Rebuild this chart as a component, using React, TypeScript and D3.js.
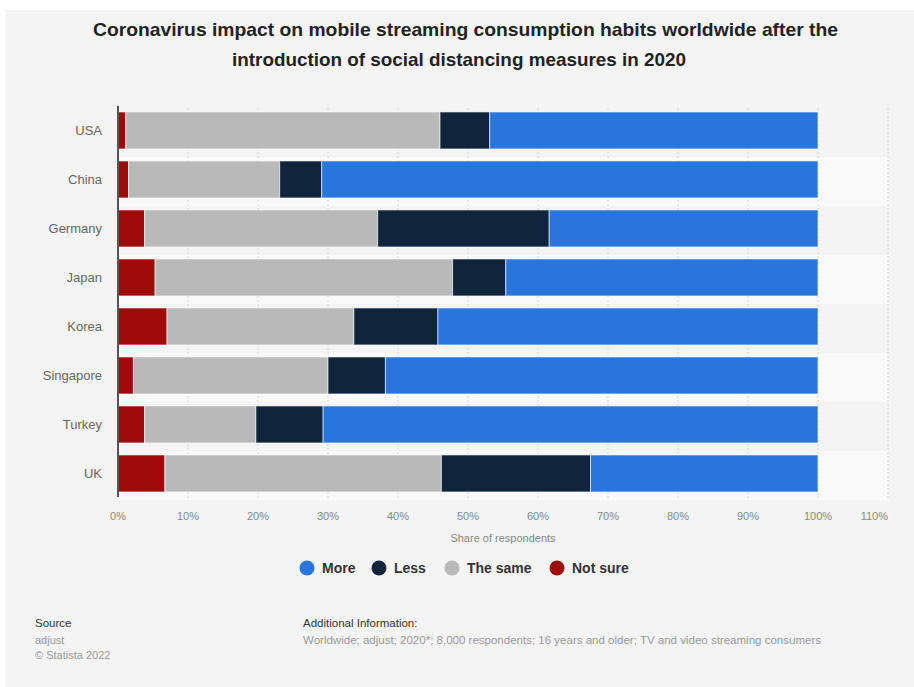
import React from "react";
import * as d3 from "d3";

const countries = ["USA", "China", "Germany", "Japan", "Korea", "Singapore", "Turkey", "UK"];
const notSure = [1.1, 1.5, 3.8, 5.3, 7.0, 2.2, 3.8, 6.7];
const theSame = [44.9, 21.6, 33.3, 42.5, 26.7, 27.8, 15.9, 39.5];
const less = [7.1, 6.0, 24.5, 7.6, 12.0, 8.2, 9.6, 21.3];
const more = [46.9, 70.9, 38.4, 44.6, 54.3, 61.8, 70.7, 32.5];
const xTicks = [0, 10, 20, 30, 40, 50, 60, 70, 80, 90, 100, 110];

const seriesNames = ["Not sure", "The same", "Less", "More"];
const seriesColors = ["#a10a0a", "#b9b9b9", "#10253c", "#2876dd"];
const legendOrder = ["More", "Less", "The same", "Not sure"];

export default function App() {
  const W = 914, H = 687;
  const left = 118, right = 888, top = 108, bottom = 500;
  const x = d3.scaleLinear().domain([0, 110]).range([left, right]);
  const y = d3.scaleBand().domain(countries).range([top, bottom]).paddingInner(0.245).paddingOuter(0.1225).align(0.33);
  const band = d3.scaleBand().domain(countries).range([top, bottom]);

  const rows = countries.map((c, i) => ({
    country: c,
    "Not sure": notSure[i],
    "The same": theSame[i],
    Less: less[i],
    More: more[i],
  }));
  const stacked = d3.stack<any>().keys(seriesNames)(rows);

  const legendX: Record<string, number> = { More: 307, Less: 379, "The same": 452, "Not sure": 557 };

  return (
    <svg width={W} height={H} style={{ position: "absolute", left: 0, top: 0, fontFamily: "'Liberation Sans', Arial, sans-serif" }}>
      <rect x={0} y={0} width={W} height={H} fill="#ffffff" />
      <rect x={5} y={10} width={W - 5} height={H - 10} fill="#f4f4f4" />
      <text x={93} y={36} fontSize={18.5} fontWeight="bold" fill="#222" textLength={745} lengthAdjust="spacingAndGlyphs">
        Coronavirus impact on mobile streaming consumption habits worldwide after the
      </text>
      <text x={232} y={66} fontSize={18.5} fontWeight="bold" fill="#222" textLength={454} lengthAdjust="spacingAndGlyphs">
        introduction of social distancing measures in 2020
      </text>

      {countries.map((c, i) => (
        <rect key={c} x={left} y={band(c)!} width={right - left + 1} height={band.bandwidth()} fill={i % 2 === 0 ? "#f4f4f4" : "#f9f9f9"} />
      ))}

      {xTicks.map((t) => (
        <line key={t} x1={x(t)} x2={x(t)} y1={top} y2={bottom} stroke="#d8d8d8" strokeDasharray="2,2" strokeWidth={1} />
      ))}

      {stacked.map((s, si) => (
        <g key={s.key}>
          {s.map((d, i) => (
            <rect
              key={i}
              x={x(d[0])}
              y={y(countries[i])!}
              width={x(d[1]) - x(d[0])}
              height={y.bandwidth()}
              fill={seriesColors[si]}
              stroke="#ffffff"
              strokeOpacity={0.6}
              strokeWidth={1}
            />
          ))}
        </g>
      ))}

      <line x1={left} x2={left} y1={top - 2} y2={bottom - 3} stroke="#555" strokeWidth={2} />

      {countries.map((c) => (
        <text key={c} x={102} y={y(c)! + y.bandwidth() / 2} dy="0.35em" textAnchor="end" fontSize={13} fill="#666">
          {c}
        </text>
      ))}

      {xTicks.map((t) => (
        <text key={t} x={x(t)} y={520} textAnchor={t === 110 ? "end" : "middle"} fontSize={11} fill="#888">
          {t}%
        </text>
      ))}
      <text x={503} y={542} textAnchor="middle" fontSize={11} fill="#888">
        Share of respondents
      </text>

      {legendOrder.map((name) => {
        const idx = seriesNames.indexOf(name);
        const cx = legendX[name];
        return (
          <g key={name}>
            <circle cx={cx} cy={568} r={7.5} fill={seriesColors[idx]} />
            <text x={cx + 15} y={568} dy="0.36em" fontSize={14} fontWeight="bold" fill="#333">
              {name}
            </text>
          </g>
        );
      })}

      <text x={35} y={627} fontSize={11.5} fill="#333">Source</text>
      <text x={35} y={644} fontSize={11} fill="#999">adjust</text>
      <text x={35} y={659} fontSize={11} fill="#999">© Statista 2022</text>
      <text x={303} y={627} fontSize={11.5} fill="#333">Additional Information:</text>
      <text x={303} y={644} fontSize={11} fill="#999" textLength={518} lengthAdjust="spacingAndGlyphs">
        Worldwide; adjust; 2020*; 8,000 respondents; 16 years and older; TV and video streaming consumers
      </text>
    </svg>
  );
}
